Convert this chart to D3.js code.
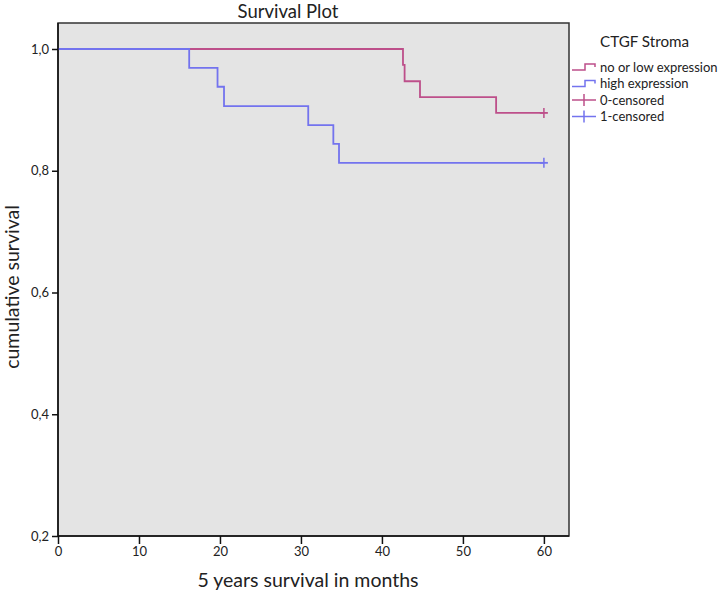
<!DOCTYPE html>
<html><head><meta charset="utf-8">
<script src="https://cdn.jsdelivr.net/npm/d3@7/dist/d3.min.js"></script>
<style>body{margin:0;background:#fff}svg{display:block;font-family:Lato,"Open Sans",sans-serif}</style>
</head><body>
<svg id="c" width="720" height="596"></svg>
<script>
// ---- data ----
const groups = ["no or low expression", "high expression"];
const lowTimes = [0, 42.6, 42.8, 44.7, 54.1, 60];
const lowSurv  = [1.0, 0.974, 0.947, 0.921, 0.895, 0.895];
const highTimes = [0, 16.2, 19.7, 20.5, 30.9, 34.0, 34.7, 60];
const highSurv  = [1.0, 0.969, 0.938, 0.906, 0.875, 0.844, 0.813, 0.813];
const censorTimes = [60, 60];
const xTicks = [0, 10, 20, 30, 40, 50, 60];
const yTicks = [0.2, 0.4, 0.6, 0.8, 1.0];
const legendLabels = ["no or low expression", "high expression", "0-censored", "1-censored"];

const colRed = "#bd4f8a", colBlue = "#7373ee";
const svg = d3.select("#c");
const L = 58, R = 569, T = 23, B = 536;
const x = d3.scaleLinear().domain([0, 63.1]).range([L, R]);
const y = d3.scaleLinear().domain([0.2, 1.0]).range([B, 49]);

svg.append("rect").attr("x", L).attr("y", T).attr("width", R - L).attr("height", B - T)
  .attr("fill", "#e4e4e4").attr("stroke", "#333").attr("stroke-width", 1.5);

const line = d3.line().x(d => x(d[0])).y(d => y(d[1])).curve(d3.curveStepAfter);
const lowData = lowTimes.map((t, i) => [t, lowSurv[i]]);
const highData = highTimes.map((t, i) => [t, highSurv[i]]);

svg.append("path").datum(lowData).attr("d", line).attr("fill", "none").attr("stroke", colRed).attr("stroke-width", 1.8);
svg.append("path").datum(highData).attr("d", line).attr("fill", "none").attr("stroke", colBlue).attr("stroke-width", 1.8);

// censor marks
[[censorTimes[0], lowSurv[lowSurv.length - 1], colRed], [censorTimes[1], highSurv[highSurv.length - 1], colBlue]].forEach(c => {
  svg.append("line").attr("x1", x(c[0])).attr("x2", x(c[0])).attr("y1", y(c[1]) - 5).attr("y2", y(c[1]) + 5)
    .attr("stroke", c[2]).attr("stroke-width", 1.5);
  svg.append("line").attr("x1", x(c[0]) - 4).attr("x2", x(c[0]) + 4).attr("y1", y(c[1])).attr("y2", y(c[1]))
    .attr("stroke", c[2]).attr("stroke-width", 1.8);
});

// axes
const yAxis = d3.axisLeft(y).tickValues(yTicks).tickSize(6).tickPadding(3)
  .tickFormat(d => d3.format(".1f")(d).replace(".", ","));
const gy = svg.append("g").attr("transform", `translate(${L},0)`).call(yAxis);
const xAxis = d3.axisBottom(x).tickValues(xTicks).tickSize(8).tickPadding(3);
const gx = svg.append("g").attr("transform", `translate(0,${B})`).call(xAxis);
[gx, gy].forEach(g => {
  g.select(".domain").remove();
  g.selectAll(".tick line").attr("stroke", "#111").attr("stroke-width", 1.5);
  g.selectAll(".tick text").attr("font-family", "Lato, sans-serif").attr("font-size", 13).attr("fill", "#222");
});
svg.append("line").attr("x1", L).attr("x2", L).attr("y1", T).attr("y2", B).attr("stroke", "#111").attr("stroke-width", 1.5);
svg.append("line").attr("x1", L).attr("x2", R).attr("y1", B).attr("y2", B).attr("stroke", "#111").attr("stroke-width", 1.5);

// titles
svg.append("text").attr("x", 288).attr("y", 18).attr("text-anchor", "middle").attr("font-size", 18.5).attr("fill", "#222").text("Survival Plot");
svg.append("text").attr("x", 308).attr("y", 587).attr("text-anchor", "middle").attr("font-size", 19.5).attr("fill", "#222").text("5 years survival in months");
svg.append("text").attr("transform", "translate(19,287) rotate(-90)").attr("text-anchor", "middle").attr("font-size", 19.5).attr("fill", "#222").text("cumulative survival");

// legend
svg.append("text").attr("x", 600).attr("y", 47).attr("font-size", 15.2).attr("fill", "#222").text("CTGF Stroma");
const rowY = [67, 83.5, 100, 116.5];
const cols = [colRed, colBlue, colRed, colBlue];
legendLabels.forEach((lab, i) => {
  const cy = rowY[i];
  if (i < 2) {
    svg.append("path").attr("d", `M572,${cy + 3}H585V${cy - 3}H595V${cy}`).attr("fill", "none").attr("stroke", cols[i]).attr("stroke-width", 1.5);
  } else {
    svg.append("line").attr("x1", 572).attr("x2", 596).attr("y1", cy).attr("y2", cy).attr("stroke", cols[i]).attr("stroke-width", 1.5);
    svg.append("line").attr("x1", 584).attr("x2", 584).attr("y1", cy - 6).attr("y2", cy + 6).attr("stroke", cols[i]).attr("stroke-width", 1.5);
  }
  svg.append("text").attr("x", 600).attr("y", cy + 4.5).attr("font-size", 13).attr("fill", "#222").text(lab);
});
</script>
</body></html>
